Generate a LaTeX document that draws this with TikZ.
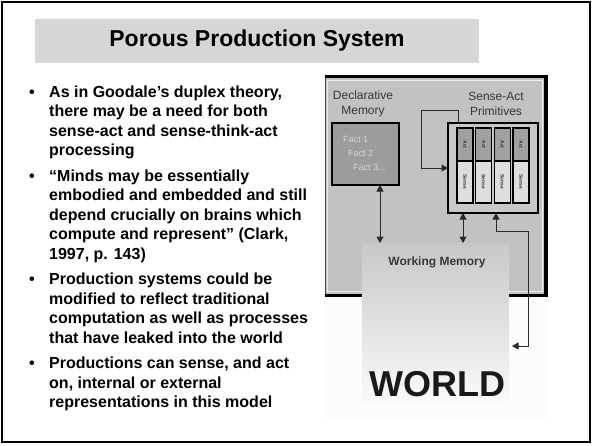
\documentclass[tikz,border=0pt]{standalone}
\usepackage{fontspec}
\setmainfont{Liberation Sans}
\usetikzlibrary{arrows.meta,calc}
\definecolor{titlegray}{HTML}{D6D6D6}
\definecolor{boxgray}{HTML}{C2C2C2}
\definecolor{dmgray}{HTML}{9C9C9C}
\definecolor{sagray}{HTML}{C8C8C8}
\definecolor{actgray}{HTML}{A0A0A0}
\definecolor{sensegray}{HTML}{DEDEDE}
\definecolor{lblgray}{HTML}{383838}
\definecolor{factgray}{HTML}{D4D4D4}
\definecolor{worldtop}{HTML}{C8C8C8}
\definecolor{worldbot}{HTML}{FAFAFA}
\definecolor{bgpale}{HTML}{FCFCFC}
\definecolor{arrgray}{HTML}{2A2A2A}
\begin{document}
\begin{tikzpicture}[x=1pt,y=-1pt,
  btext/.style={anchor=base west, inner sep=0pt, font=\bfseries\fontsize{16}{19}\selectfont},
  bdot/.style={anchor=base, inner sep=0pt, font=\bfseries\fontsize{16}{19}\selectfont},
  box/.style={anchor=north west, inner sep=0pt, outer sep=0pt},
  lbl/.style={align=center, inner sep=0pt, text=lblgray, font=\fontsize{12}{15}\selectfont},
  fact/.style={anchor=west, inner sep=0pt, text=factgray, font=\fontsize{9}{11}\selectfont},
  cell/.style={box, draw=black, line width=1.3pt, minimum width=16pt},
  celltxt/.style={rotate=-90, inner sep=0pt, text=lblgray, font=\bfseries\fontsize{5}{6}\selectfont},
  darr/.style={draw=arrgray, line width=1pt, {Triangle[width=7pt,length=6.5pt]}-{Triangle[width=7pt,length=6.5pt]}},
  arr/.style={draw=arrgray, line width=1pt, -{Triangle[width=7pt,length=6.5pt]}}
]
\useasboundingbox (0,0) rectangle (592,445);
\fill[white] (0,0) rectangle (592,445);
% outer frame
\draw[line width=2pt] (1.5,1.5) rectangle (590,441.5);

% title
\node[box, fill=titlegray, minimum width=444pt, minimum height=44pt] (titlebox) at (35,19) {};
\node[font=\bfseries\fontsize{23}{27}\selectfont, inner sep=0pt] (title) at (titlebox.center) {Porous Production System};

% bullets
\node[bdot] (d1) at (32,97) {•};
\node[btext] (b1a) at (49,97) {As in Goodale’s duplex theory,};
\node[btext] (b1b) at (49,116.5) {there may be a need for both};
\node[btext] (b1c) at (49,136) {sense-act and sense-think-act};
\node[btext] (b1d) at (49,155.5) {processing};
\node[bdot] (d2) at (32,181) {•};
\node[btext] (b2a) at (49,181) {“Minds may be essentially};
\node[btext] (b2b) at (49,200.5) {embodied and embedded and still};
\node[btext] (b2c) at (49,220) {depend crucially on brains which};
\node[btext] (b2d) at (49,239.5) {compute and represent” (Clark,};
\node[btext] (b2e) at (49,259) {1997, p. 143)};
\node[bdot] (d3) at (32,284.5) {•};
\node[btext] (b3a) at (49,284.5) {Production systems could be};
\node[btext] (b3b) at (49,304) {modified to reflect traditional};
\node[btext] (b3c) at (49,323.5) {computation as well as processes};
\node[btext] (b3d) at (49,343) {that have leaked into the world};
\node[bdot] (d4) at (32,368.5) {•};
\node[btext] (b4a) at (49,368.5) {Productions can sense, and act};
\node[btext] (b4b) at (49,388) {on, internal or external};
\node[btext] (b4c) at (49,407.5) {representations in this model};

% diagram background
\node[box, fill=bgpale, minimum width=225pt, minimum height=343pt] (bg) at (323,75) {};
\node[box, fill=boxgray, minimum width=223pt, minimum height=222pt] (pps) at (325,75) {};
\draw[draw=white!85!gray, line width=0.8pt] ($(pps.north west)+(2,5)$) rectangle ($(pps.south east)+(-6,-6)$);
\draw[draw=black!70, line width=1pt] (pps.north west) -- (pps.south west);
\draw[line width=3.5pt, line join=miter] ($(pps.south west)+(0,-1.75)$) -- ($(pps.south east)+(-2,-1.75)$) -- ($(pps.north east)+(-2,1.5)$) -- ($(pps.north west)+(0,1.5)$);

% world panel
\node[box, top color=worldtop, bottom color=worldbot, minimum width=147pt, minimum height=159pt] (world) at (362,243) {};
\node[inner sep=0pt, text=lblgray, font=\bfseries\fontsize{12}{14}\selectfont] (wm) at (437,262) {Working Memory};
\node[inner sep=0pt, text=black!90, font=\bfseries\fontsize{36}{40}\selectfont] (worldlbl) at (437,384) {WORLD};

% declarative memory
\node[lbl] (dmlbl) at (363,103.5) {Declarative\\Memory};
\node[box, fill=dmgray, draw=black, line width=2pt, minimum width=67pt, minimum height=62pt] (dm) at (332,123) {};
\node[fact] (f1) at (343,139) {Fact 1};
\node[fact] (f2) at (348,153) {Fact 2};
\node[fact] (f3) at (353,167) {Fact 3...};

% sense-act primitives
\node[lbl] (salbl) at (496,103.5) {Sense-Act\\Primitives};
\node[box, fill=sagray, draw=black, line width=2pt, minimum width=90pt, minimum height=90pt] (sa) at (448,123) {};
\foreach \i in {0,...,3} {
  \node[cell, fill=actgray, minimum height=33pt] (act\i) at ({457+18.7*\i},128) {};
  \node[cell, fill=sensegray, minimum height=42pt] (sense\i) at ({457+18.7*\i},161) {};
  \node[celltxt] (actl\i) at (act\i.center) {Act};
  \node[celltxt] (sensel\i) at (sense\i.center) {Sense};
}

% connectors
\coordinate (loopstart) at ($(sa.north west)+(10,0)$);
\draw[arr] (loopstart) -- ++(0,-13) -- ++(-37,0) |- (sa.west);
\coordinate (dmb) at ($(dm.south west)+(48,0)$);
\draw[darr] (dmb) -- (dmb |- world.north);
\coordinate (sab) at ($(sa.south west)+(15,0)$);
\draw[darr] (sab) -- (sab |- world.north);
\coordinate (sar) at ($(sa.south west)+(48,0)$);
\coordinate (wr) at ($(world.north east)+(3,103)$);
\draw[darr] (sar) -- ++(0,18) -- ++(32,0) |- (wr);
\end{tikzpicture}
\end{document}
